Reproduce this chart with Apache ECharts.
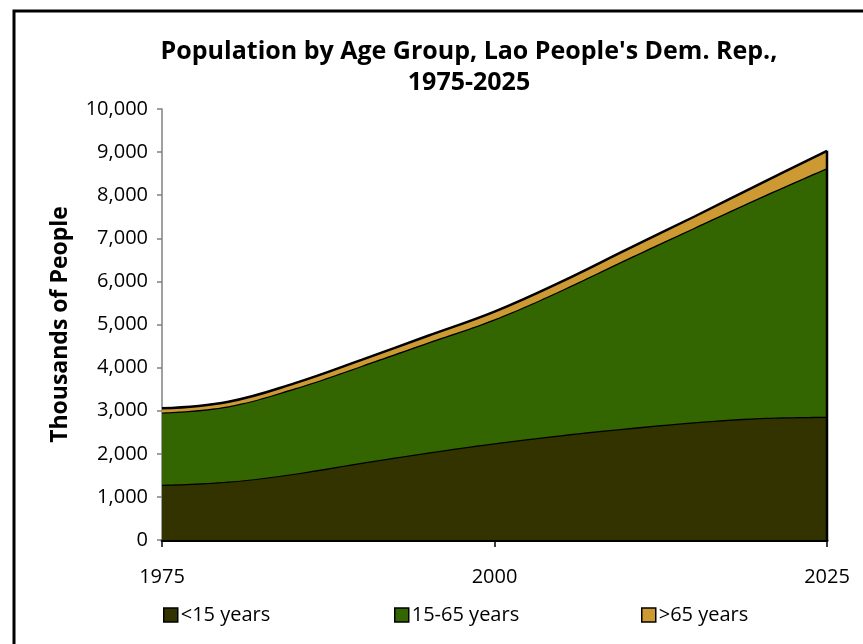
<!DOCTYPE html>
<html>
<head>
<meta charset="utf-8">
<script src="https://cdn.jsdelivr.net/npm/echarts@6/dist/echarts.min.js"></script>
<style>
html,body{margin:0;padding:0;background:#fff;}
#chart{width:863px;height:644px;}
</style>
</head>
<body>
<div id="chart"></div>
<script>
const years = ['1975', '1980', '1985', '1990', '1995', '2000', '2005', '2010', '2015', '2020', '2025'];
const under15 = [1280, 1355, 1540, 1790, 2030, 2245, 2430, 2590, 2730, 2830, 2860];
const age15to65 = [1680, 1750, 1980, 2250, 2550, 2875, 3360, 3935, 4510, 5120, 5770];
const over65 = [95, 105, 120, 140, 160, 180, 200, 225, 260, 320, 400];
const seriesNames = ['<15 years', '15-65 years', '>65 years'];
const fills = ['#333300', '#336600', '#CC9933'];

const FONT = '"Open Sans", "Noto Sans", sans-serif';
const chart = echarts.init(document.getElementById('chart'));
const dataSets = [under15, age15to65, over65];
const last = years.length - 1;
const lastTotal = under15[last] + age15to65[last] + over65[last];

const series = dataSets.map((arr, i) => ({
  name: seriesNames[i],
  type: 'line',
  stack: 'pop',
  smooth: 0.4,
  showSymbol: false,
  symbol: 'none',
  data: arr,
  itemStyle: { color: fills[i] },
  lineStyle: { color: '#000', width: 2.5 },
  areaStyle: { color: fills[i], opacity: 1 },
  z: 2 + i
}));
series.push({
  name: 'edge',
  type: 'line',
  showSymbol: false,
  symbol: 'none',
  data: [[years[last], 0], [years[last], lastTotal]],
  lineStyle: { color: '#000', width: 2.5 },
  silent: true,
  z: 10
});

const legendLefts = [158, 389, 636];
chart.setOption({
  animation: false,
  backgroundColor: '#fff',
  title: {
    text: "Population by Age Group, Lao People's Dem. Rep.,\n1975-2025",
    left: 464,
    top: 31,
    textAlign: 'center',
    textStyle: { fontFamily: FONT, fontSize: 25, fontWeight: 'bold', color: '#000', lineHeight: 31 }
  },
  legend: legendLefts.map((l, i) => ({
    data: [seriesNames[i]],
    left: l,
    top: 600,
    icon: 'rect',
    itemWidth: 14,
    itemHeight: 14,
    itemGap: 5,
    itemStyle: { borderColor: '#000', borderWidth: 1.5 },
    textStyle: { fontFamily: FONT, fontSize: 20, color: '#000', padding: [0, 0, 0, -2] }
  })),
  grid: { left: 162, right: 36, top: 109, bottom: 104, containLabel: false },
  xAxis: {
    type: 'category',
    data: years,
    boundaryGap: false,
    axisLine: { show: true, lineStyle: { color: '#000', width: 3 } },
    axisTick: { show: true, interval: 4, length: 7, lineStyle: { color: '#000', width: 1.5 } },
    axisLabel: { interval: 4, fontFamily: FONT, fontSize: 20, color: '#000', margin: 27 },
    splitLine: { show: false }
  },
  yAxis: {
    type: 'value',
    min: 0,
    max: 10000,
    interval: 1000,
    name: 'Thousands of People',
    nameLocation: 'middle',
    nameGap: 90,
    nameTextStyle: { fontFamily: FONT, fontSize: 23, fontWeight: 'bold', color: '#000' },
    axisLine: { show: true, lineStyle: { color: '#808080', width: 1.5 } },
    axisTick: { show: true, length: 5, lineStyle: { color: '#808080', width: 1.5 } },
    axisLabel: {
      fontFamily: FONT, fontSize: 20, color: '#000', margin: 14,
      formatter: v => v.toLocaleString('en-US')
    },
    splitLine: { show: false }
  },
  graphic: [{
    type: 'rect',
    shape: { x: 14, y: 11, width: 900, height: 700 },
    style: { fill: 'none', stroke: '#000', lineWidth: 3 },
    silent: true,
    z: 100
  }],
  series: series
});
</script>
</body>
</html>
